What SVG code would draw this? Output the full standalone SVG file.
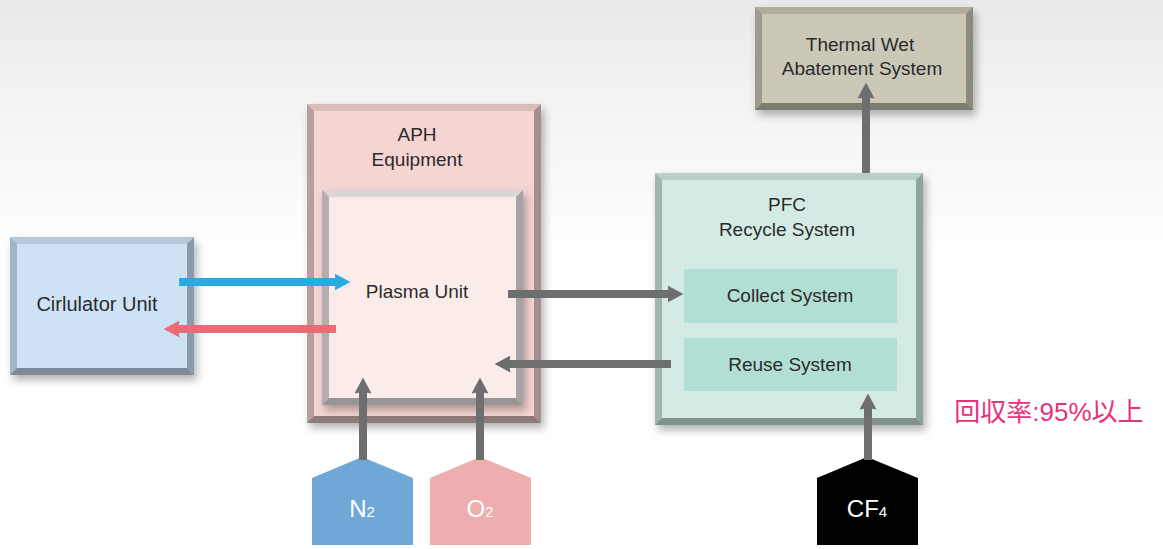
<svg xmlns="http://www.w3.org/2000/svg" width="1163" height="549" viewBox="0 0 1163 549">
<defs>
<linearGradient id="bg" x1="0" y1="0" x2="0" y2="1">
<stop offset="0" stop-color="#e9eaeb"/>
<stop offset="0.25" stop-color="#f6f6f6"/>
<stop offset="0.45" stop-color="#ffffff"/>
<stop offset="1" stop-color="#ffffff"/>
</linearGradient>
<filter id="sh" x="-10%" y="-10%" width="130%" height="130%">
<feDropShadow dx="3" dy="5" stdDeviation="4" flood-color="#000" flood-opacity="0.3"/>
</filter>
<marker id="ahBlue" markerUnits="userSpaceOnUse" markerWidth="16" markerHeight="17" viewBox="0 0 16 17" refX="1.5" refY="8.5" orient="auto"><path d="M0,0 L16,8.5 L0,17 L1.5,8.5 z" fill="#29abe2"/></marker>
<marker id="ahRed" markerUnits="userSpaceOnUse" markerWidth="16" markerHeight="17" viewBox="0 0 16 17" refX="1.5" refY="8.5" orient="auto"><path d="M0,0 L16,8.5 L0,17 L1.5,8.5 z" fill="#e86c76"/></marker>
<marker id="ahGrey" markerUnits="userSpaceOnUse" markerWidth="16" markerHeight="17" viewBox="0 0 16 17" refX="1.5" refY="8.5" orient="auto"><path d="M0,0 L16,8.5 L0,17 L1.5,8.5 z" fill="#6d6e70"/></marker>
</defs>
<style>
text{font-family:"Liberation Sans",Arial,sans-serif;fill:#2b2b2b;text-anchor:middle;}
.lbl{font-size:19px;}
.gas{font-size:24px;fill:#ffffff;}
.sub{font-size:15px;fill:#ffffff;}
.conn{fill:none;stroke-width:8;}
</style>
<rect x="0" y="0" width="1163" height="549" fill="url(#bg)"/>

<g id="circulator">
<g filter="url(#sh)">
<rect x="10" y="237" width="184" height="138" fill="#b5c9da"/>
<polygon points="10,237 17,244 17,368 10,375" fill="#a3b5c5"/>
<polygon points="194,237 194,375 187,368 187,244" fill="#8a9aa8"/>
<polygon points="10,375 17,368 187,368 194,375" fill="#7d8b98"/>
<rect x="17" y="244" width="170" height="124" fill="#cde3f5"/>
</g>
<text class="lbl" x="97" y="311" style="font-size:20px">Cirlulator Unit</text>
</g>

<g id="aph">
<g filter="url(#sh)">
<rect x="307" y="104" width="234" height="319" fill="#dcbcbb"/>
<polygon points="307,104 314,111 314,416 307,423" fill="#b89e9e"/>
<polygon points="541,104 541,423 534,416 534,111" fill="#a48e8e"/>
<polygon points="307,423 314,416 534,416 541,423" fill="#8e7a78"/>
<rect x="314" y="111" width="220" height="305" fill="#f5d5d3"/>
</g>
<text class="lbl" x="417" y="141">APH</text>
<text class="lbl" x="417" y="166">Equipment</text>
</g>

<g id="plasma">
<g filter="url(#sh)">
<rect x="322" y="190" width="201" height="215" fill="#ddd5d4"/>
<polygon points="322,190 329,197 329,398 322,405" fill="#b4aeae"/>
<polygon points="523,190 523,405 516,398 516,197" fill="#a8a3a3"/>
<polygon points="322,405 329,398 516,398 523,405" fill="#9a9595"/>
<rect x="329" y="197" width="187" height="201" fill="#fbecea"/>
</g>
<text class="lbl" x="417" y="298">Plasma Unit</text>
</g>

<g id="pfc">
<g filter="url(#sh)">
<rect x="655" y="173" width="268" height="252" fill="#b6d0c8"/>
<polygon points="655,173 662,180 662,418 655,425" fill="#9fb7b0"/>
<polygon points="923,173 923,425 916,418 916,180" fill="#8fa39d"/>
<polygon points="655,425 662,418 916,418 923,425" fill="#7f918c"/>
<rect x="662" y="180" width="254" height="238" fill="#d3ebe4"/>
</g>
<text class="lbl" x="787" y="211">PFC</text>
<text class="lbl" x="787" y="236">Recycle System</text>
</g>

<g id="collect">
<rect x="684" y="269" width="213" height="54" fill="#b2dfd4"/>
<text class="lbl" x="790" y="302">Collect System</text>
</g>

<g id="reuse">
<rect x="684" y="338" width="213" height="53" fill="#b2dfd4"/>
<text class="lbl" x="790" y="371">Reuse System</text>
</g>

<g id="thermal">
<g filter="url(#sh)">
<rect x="755" y="7" width="218" height="103" fill="#b0ad9e"/>
<polygon points="755,7 762,14 762,103 755,110" fill="#9d9b8e"/>
<polygon points="973,7 973,110 966,103 966,14" fill="#8b8a7e"/>
<polygon points="755,110 762,103 966,103 973,110" fill="#7c7b70"/>
<rect x="762" y="14" width="204" height="89" fill="#cbc8b8"/>
</g>
<text class="lbl" x="860" y="51">Thermal Wet</text>
<text class="lbl" x="862" y="75">Abatement System</text>
</g>

<g id="n2">
<polygon points="312,478 362,457 413,478 413,545 312,545" fill="#6fa8d6"/>
<text x="362" y="517"><tspan class="gas">N</tspan><tspan class="sub">2</tspan></text>
</g>

<g id="o2">
<polygon points="430,478 480,457 531,478 531,545 430,545" fill="#eeadae"/>
<text x="480" y="517"><tspan class="gas">O</tspan><tspan class="sub">2</tspan></text>
</g>

<g id="cf4">
<polygon points="817,478 867,457 918,478 918,545 817,545" fill="#000000"/>
<text x="867" y="517"><tspan class="gas">CF</tspan><tspan class="sub">4</tspan></text>
</g>

<g id="rate">
<text x="1049" y="421" style="font-family:'Liberation Sans','Noto Sans CJK JP',sans-serif;font-size:26px;fill:#e9307b;">回収率:95%以上</text>
</g>

<g id="connectors">
<line class="conn" x1="179" y1="282" x2="336" y2="282" stroke="#29abe2" marker-end="url(#ahBlue)"/>
<line class="conn" x1="336" y1="329" x2="178" y2="329" stroke="#e86c76" marker-end="url(#ahRed)"/>
<line class="conn" x1="508" y1="294" x2="669" y2="294" stroke="#6d6e70" marker-end="url(#ahGrey)"/>
<line class="conn" x1="671" y1="364" x2="509" y2="364" stroke="#6d6e70" marker-end="url(#ahGrey)"/>
<line class="conn" x1="363" y1="460" x2="363" y2="392" stroke="#6d6e70" marker-end="url(#ahGrey)"/>
<line class="conn" x1="480" y1="460" x2="480" y2="392" stroke="#6d6e70" marker-end="url(#ahGrey)"/>
<line class="conn" x1="868" y1="460" x2="868" y2="408" stroke="#6d6e70" marker-end="url(#ahGrey)"/>
<line class="conn" x1="866" y1="173" x2="866" y2="97" stroke="#6d6e70" marker-end="url(#ahGrey)"/>
</g>
</svg>
